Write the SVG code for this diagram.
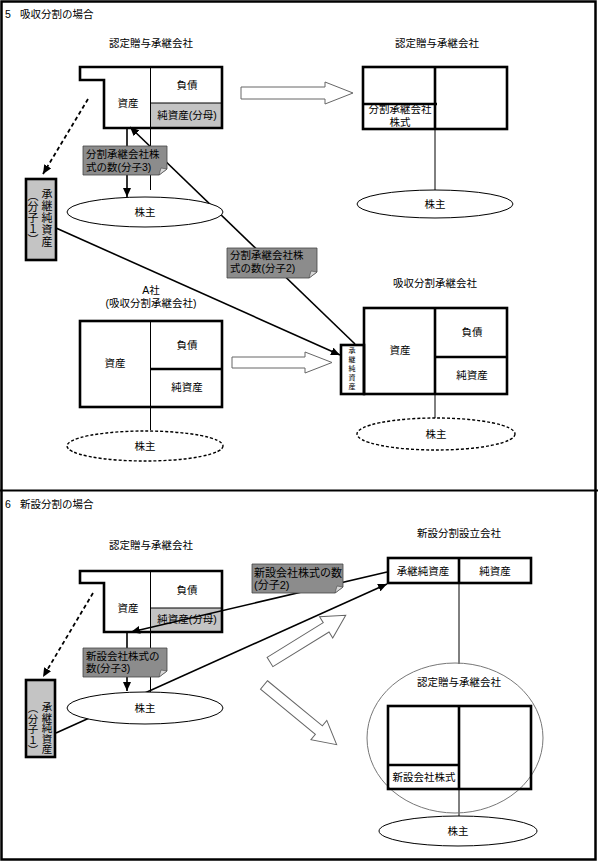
<svg xmlns="http://www.w3.org/2000/svg" width="598" height="862" viewBox="0 0 598 862">
<style>
text{font-family:"Liberation Sans","Noto Sans CJK JP",sans-serif;font-size:10.5px;fill:#000}
.c{text-anchor:middle}
.thick{fill:none;stroke:#000;stroke-width:2.6}
.thin{fill:none;stroke:#000;stroke-width:1}
.light{fill:#c4c4c4}
.ln{stroke:#000;stroke-width:1.6;fill:none}
.dash{stroke:#000;stroke-width:1.8;fill:none;stroke-dasharray:4 3}
.ell{fill:#fff;stroke:#000;stroke-width:1}
.ell-d{fill:#fff;stroke:#000;stroke-width:1.4;stroke-dasharray:3 2}
.hollow{fill:#fff;stroke:#666;stroke-width:1}
.callout{fill:#8c8c8c;stroke:#444;stroke-width:0.8}
.fold{fill:#d8d8d8;stroke:#444;stroke-width:0.6}
text.vt{writing-mode:vertical-rl;text-orientation:upright;font-family:"Noto Sans CJK JP",sans-serif}
</style>
<defs>
<marker id="ah" markerWidth="9" markerHeight="8" refX="9" refY="4" orient="auto" markerUnits="userSpaceOnUse">
<path d="M0,0 L9,4 L0,8 Z" fill="#000"/>
</marker>
</defs>
<rect x="0" y="0" width="598" height="862" fill="#fff"/>
<rect x="1.5" y="1.5" width="594" height="858" fill="none" stroke="#000" stroke-width="2.5"/>
<line x1="0" y1="490.5" x2="598" y2="490.5" stroke="#000" stroke-width="2"/>

<text x="5" y="18">5<tspan x="20">吸収分割の場合</tspan></text>
<text x="5" y="508">6<tspan x="20">新設分割の場合</tspan></text>

<!-- Section 5 -->
<g id="s5-donor">
<text class="c" x="151" y="47">認定贈与承継会社</text>
<rect class="light" x="150.5" y="103" width="72" height="25"/>
<line class="thin" x1="150.5" y1="67" x2="150.5" y2="128"/>
<line class="thin" x1="150.5" y1="103" x2="222" y2="103"/>
<path class="thick" d="M80,67 H222 V128 H104 V80 H80 Z"/>
<text class="c" x="187" y="89">負債</text>
<text class="c" x="128" y="107">資産</text>
<text class="c" x="187" y="119">純資産(分母)</text>
</g>

<g id="s5-donor-after">
<text class="c" x="437" y="47">認定贈与承継会社</text>
<rect class="thick" x="363" y="67" width="144" height="62"/>
<line class="thick" x1="435" y1="67" x2="435" y2="129"/>
<line class="thick" x1="363" y1="104" x2="437" y2="104"/>
<text class="c" x="400" y="113">分割承継会社</text>
<text class="c" x="400" y="126">株式</text>
</g>

<g id="s5-a">
<text class="c" x="151" y="294">A社</text>
<text class="c" x="151" y="307">(吸収分割承継会社)</text>
<line class="thin" x1="150.5" y1="321" x2="150.5" y2="407"/>
<line class="thick" x1="150.5" y1="369" x2="222" y2="369"/>
<rect class="thick" x="80" y="321" width="142" height="86"/>
<text class="c" x="187" y="349">負債</text>
<text class="c" x="115" y="367">資産</text>
<text class="c" x="187" y="391">純資産</text>
</g>

<g id="s5-a-after">
<text class="c" x="435" y="287">吸収分割承継会社</text>
<rect class="thick" x="364" y="308" width="143" height="86"/>
<line class="thick" x1="435" y1="308" x2="435" y2="394"/>
<line class="thick" x1="435" y1="357" x2="507" y2="357"/>
<rect class="thick" x="341" y="345" width="23" height="49"/>
<text class="vt" x="352" y="347" style="font-size:7px;letter-spacing:2px">承継純資産</text>
<text class="c" x="400" y="354">資産</text>
<text class="c" x="472" y="336">負債</text>
<text class="c" x="472" y="379">純資産</text>
</g>

<g id="s5-left">
<rect class="light" x="26" y="179" width="30" height="81"/>
<rect class="thick" x="26" y="179" width="30" height="81"/>
<text class="vt" x="47" y="188" style="font-size:11px;letter-spacing:1px">承継純資産</text>
<text class="vt" x="33" y="190" style="font-size:11px">（分子１）</text>
</g>

<!-- Section 6 -->
<g id="s6-donor">
<text class="c" x="151" y="549">認定贈与承継会社</text>
<rect class="light" x="150.5" y="608" width="72" height="24"/>
<line class="thin" x1="150.5" y1="571" x2="150.5" y2="632"/>
<line class="thin" x1="150.5" y1="608" x2="222" y2="608"/>
<path class="thick" d="M80,571 H222 V632 H104 V583 H80 Z"/>
<text class="c" x="187" y="594">負債</text>
<text class="c" x="128" y="612">資産</text>
<text class="c" x="187" y="623">純資産(分母)</text>
</g>

<g id="s6-new">
<text class="c" x="459" y="537">新設分割設立会社</text>
<rect class="thick" x="388" y="558" width="143" height="25"/>
<line class="thick" x1="459" y1="558" x2="459" y2="583"/>
<text class="c" x="423" y="575">承継純資産</text>
<text class="c" x="495" y="575">純資産</text>
</g>

<g id="s6-left">
<rect class="light" x="26" y="680" width="29" height="77"/>
<rect class="thick" x="26" y="680" width="29" height="77"/>
<text class="vt" x="47" y="702" style="font-size:10.5px">承継純資産</text>
<text class="vt" x="33" y="703" style="font-size:10.5px">（分子１）</text>
</g>

<g id="connectors">
<line class="thin" x1="150.5" y1="128" x2="150.5" y2="190"/>
<line class="thin" x1="435" y1="129" x2="435" y2="190"/>
<line class="thin" x1="150.5" y1="407" x2="150.5" y2="430"/>
<line class="thin" x1="435" y1="394" x2="435" y2="418"/>
<line class="ln" x1="127" y1="129" x2="127" y2="197" marker-end="url(#ah)"/>
<line class="ln" x1="355" y1="344" x2="130" y2="127" marker-end="url(#ah)"/>
<line class="ln" x1="56" y1="228" x2="340" y2="355" marker-end="url(#ah)"/>
<line class="dash" x1="88" y1="99" x2="43" y2="174" marker-end="url(#ah)"/>
<path class="hollow" d="M241,87 H325 V82 L353,93 L325,104 V99 H241 Z"/>
<path class="hollow" d="M232,357 H305 V352 L332,362.5 L305,373 V368 H232 Z"/>

<line class="thin" x1="150.5" y1="632" x2="150.5" y2="692"/>
<line class="thin" x1="459" y1="583" x2="459" y2="664"/>
<line class="thin" x1="459" y1="789" x2="459" y2="816"/>
<line class="ln" x1="127" y1="633" x2="127" y2="691" marker-end="url(#ah)"/>
<line class="ln" x1="387" y1="572" x2="131" y2="632" marker-end="url(#ah)"/>
<line class="ln" x1="56" y1="733" x2="387" y2="584" marker-end="url(#ah)"/>
<line class="dash" x1="93" y1="593" x2="43" y2="677" marker-end="url(#ah)"/>
<path class="hollow" transform="translate(270,662) rotate(-31.7)" d="M0,-5.5 H66 V-12.5 L89,0 L66,12.5 V5.5 H0 Z"/>
<path class="hollow" transform="translate(264,685) rotate(39.4)" d="M0,-5.5 H71 V-12.5 L94,0 L71,12.5 V5.5 H0 Z"/>
</g>

<g id="s5-callout1">
<path class="callout" d="M83,146 H167 V169 L159,175 H83 Z"/>
<path class="fold" d="M159,175 L161,168 L167,169 Z"/>
<text x="86" y="158">分割承継会社株</text>
<text x="86" y="171">式の数(分子3)</text>
</g>
<g id="s5-callout2">
<path class="callout" d="M227,248 H317 V272 L309,278 H227 Z"/>
<path class="fold" d="M309,278 L311,271 L317,272 Z"/>
<text x="230" y="259">分割承継会社株</text>
<text x="230" y="272">式の数(分子2)</text>
</g>
<g id="s6-callout2">
<path class="callout" d="M252,564 H343 V587 L335,593 H252 Z"/>
<path class="fold" d="M335,593 L337,586 L343,587 Z"/>
<text x="254" y="577" style="font-size:11px">新設会社株式の数</text>
<text x="254" y="589" style="font-size:11px">(分子2)</text>
</g>
<g id="s6-callout3">
<path class="callout" d="M83,648 H167 V671 L159,677 H83 Z"/>
<path class="fold" d="M159,677 L161,670 L167,671 Z"/>
<text x="86" y="660">新設会社株式の</text>
<text x="86" y="672">数(分子3)</text>
</g>

<g id="s5-sh1"><ellipse class="ell" cx="145" cy="212" rx="78" ry="15"/><text class="c" x="145" y="216">株主</text></g>
<g id="s5-sh2"><ellipse class="ell" cx="435" cy="204" rx="78" ry="14"/><text class="c" x="435" y="208">株主</text></g>
<g id="s5-sh3"><ellipse class="ell-d" cx="145" cy="446" rx="78" ry="15"/><text class="c" x="145" y="450">株主</text></g>
<g id="s5-sh4"><ellipse class="ell-d" cx="436" cy="434" rx="79" ry="16"/><text class="c" x="436" y="438">株主</text></g>
<g id="s6-sh1"><ellipse class="ell" cx="145" cy="708" rx="78" ry="16"/><text class="c" x="145" y="712">株主</text></g>

<g id="s6-donor-after">
<ellipse cx="455" cy="738" rx="88" ry="75" fill="none" stroke="#777" stroke-width="1"/>
<text class="c" x="459" y="686">認定贈与承継会社</text>
<rect class="thick" x="388" y="706" width="143" height="83"/>
<line class="thick" x1="459" y1="706" x2="459" y2="789"/>
<line class="thick" x1="388" y1="765" x2="459" y2="765"/>
<text class="c" x="424" y="781">新設会社株式</text>
</g>
<g id="s6-sh2"><ellipse class="ell" cx="458" cy="831" rx="79" ry="15"/><text class="c" x="458" y="835">株主</text></g>
</svg>
